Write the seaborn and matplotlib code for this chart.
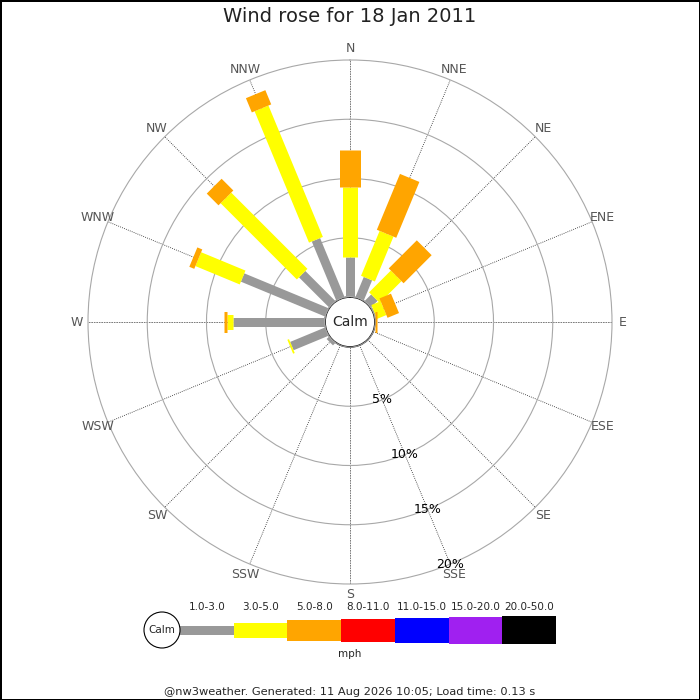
import numpy as np
import matplotlib
matplotlib.use("Agg")
import matplotlib.pyplot as plt
import seaborn as sns
from matplotlib.patches import Circle

# Wind rose data: percentage of time per direction, one list per speed bin (mph)
directions = ["N", "NNE", "NE", "ENE", "E", "ESE", "SE", "SSE",
              "S", "SSW", "SW", "WSW", "W", "WNW", "NW", "NNW"]
bearings = np.arange(16) * 22.5
speed_bins = ["1.0-3.0", "3.0-5.0", "5.0-8.0", "8.0-11.0",
              "11.0-15.0", "15.0-20.0", "20.0-50.0"]
bin_colors = ["#999999", "#ffff00", "#ffa500", "#ff0000",
              "#0000ff", "#a020f0", "#000000"]

pct_1_3 = [3.4, 1.85, 0.8, 0.1, 0, 0, 0, 0, 0, 0, 0.3, 3.2, 7.75, 7.7, 3.6, 5.4]
pct_3_5 = [5.85, 4.1, 2.6, 0.85, 0, 0, 0, 0, 0, 0, 0, 0.15, 0.55, 4.05, 9.1, 12.0]
pct_5_8 = [3.15, 5.1, 3.35, 1.05, 0.2, 0, 0, 0, 0, 0, 0, 0, 0.2, 0.45, 1.4, 1.3]
pct_8_11 = [0] * 16
pct_11_15 = [0] * 16
pct_15_20 = [0] * 16
pct_20_50 = [0] * 16
series = [pct_1_3, pct_3_5, pct_5_8, pct_8_11, pct_11_15, pct_15_20, pct_20_50]

ring_ticks = [5, 10, 15, 20]
title = "Wind rose for 18 Jan 2011"
footer = "@nw3weather. Generated: 11 Aug 2026 10:05; Load time: 0.13 s"

# bar thickness in pixels for each speed bin
bar_px = [9, 15, 21, 23, 25, 27, 28]

sns.set_theme(style="white")
plt.rcParams["font.family"] = ["DejaVu Sans"]

fig = plt.figure(figsize=(7, 7), dpi=100)
fig.patch.set_facecolor("white")
fig.patch.set_edgecolor("black")
fig.patch.set_linewidth(2)

# polar axes: centre (350, 322) px, outer radius 262 px, calm hole 25 px
R, HOLE = 262, 25
ax = fig.add_axes([(350 - R) / 700, (700 - 322 - R) / 700, 2 * R / 700, 2 * R / 700],
                  projection="polar")
ax.set_theta_zero_location("N")
ax.set_theta_direction(-1)
rmax = ring_ticks[-1]
ax.set_ylim(0, rmax)
ax.set_rorigin(-HOLE / (R - HOLE) * rmax)
ax.set_facecolor("white")
for s in ax.spines.values():
    s.set_visible(False)

theta = np.deg2rad(bearings)
ax.set_thetagrids(bearings, labels=[""] * 16)
ax.set_rgrids(ring_ticks, labels=[""] * len(ring_ticks))
ax.tick_params(length=0)
ax.grid(True)
for line in ax.yaxis.get_gridlines():
    line.set_color("#a8a8a8")
    line.set_linewidth(0.8)
    line.set_linestyle("-")
    line.set_clip_on(False)
for i, line in enumerate(ax.xaxis.get_gridlines()):
    if i % 4 == 0:
        line.set_color("#666666")
        line.set_linestyle((0, (2, 1)))
    else:
        line.set_color("#222222")
        line.set_linestyle((0, (1, 1.5)))
    line.set_linewidth(0.6)

# stacked bars of constant pixel width
cum = np.zeros(16)
for vals, color, w in zip(series, bin_colors, bar_px):
    vals = np.asarray(vals, dtype=float)
    for th, r0, dv in zip(theta, cum, vals):
        if dv > 0:
            ax.plot([th, th], [r0, r0 + dv], color=color, lw=w * 0.72,
                    solid_capstyle="butt", zorder=3)
    cum += vals

# calm circle
ax.add_patch(Circle((0.5, 0.5), HOLE / (2 * R), transform=ax.transAxes,
                    facecolor="white", edgecolor="#bbbbbb", lw=0.8, zorder=5))
ax.text(0.5, 0.5, "Calm", transform=ax.transAxes, ha="center", va="center",
        fontsize=10, zorder=6)

# direction labels
label_r = (273 - HOLE) / (R - HOLE) * rmax
for th, name in zip(theta, directions):
    ax.text(th, label_r, name, ha="center", va="center", fontsize=9,
            color="#555555", clip_on=False)

# ring labels along SSE
for r in ring_ticks:
    ax.text(np.deg2rad(157.5), r, f"{r}%", ha="center", va="center",
            fontsize=9, color="black", zorder=6, clip_on=False)

fig.text(0.5, 1 - 17 / 700, title, ha="center", va="center", fontsize=14,
         color="#222222")

# legend strip
lax = fig.add_axes([140 / 700, 30 / 700, 430 / 700, 80 / 700])
lax.set_xlim(140, 570)
lax.set_ylim(670, 590)
lax.axis("off")
seg_w = 53.7
seg_left = 180 + seg_w * np.arange(len(speed_bins))
heights = np.array(bar_px, dtype=float)
lax.bar(seg_left, heights, bottom=630 - heights / 2, width=seg_w, align="edge",
        color=bin_colors, edgecolor="none")
for x, lab in zip(seg_left, speed_bins):
    lax.text(x + seg_w / 2, 607, lab, ha="center", va="center", fontsize=7.5)
lax.text(350, 654, "mph", ha="center", va="center", fontsize=7.5)
lax.add_patch(Circle((162, 630), 18, facecolor="white", edgecolor="black", lw=0.8,
                     zorder=4))
lax.text(162, 630, "Calm", ha="center", va="center", fontsize=7.5, zorder=5)

fig.text(0.5, 1 - 692 / 700, footer, ha="center", va="center", fontsize=8.2)

fig.savefig("out.png", dpi=100)
